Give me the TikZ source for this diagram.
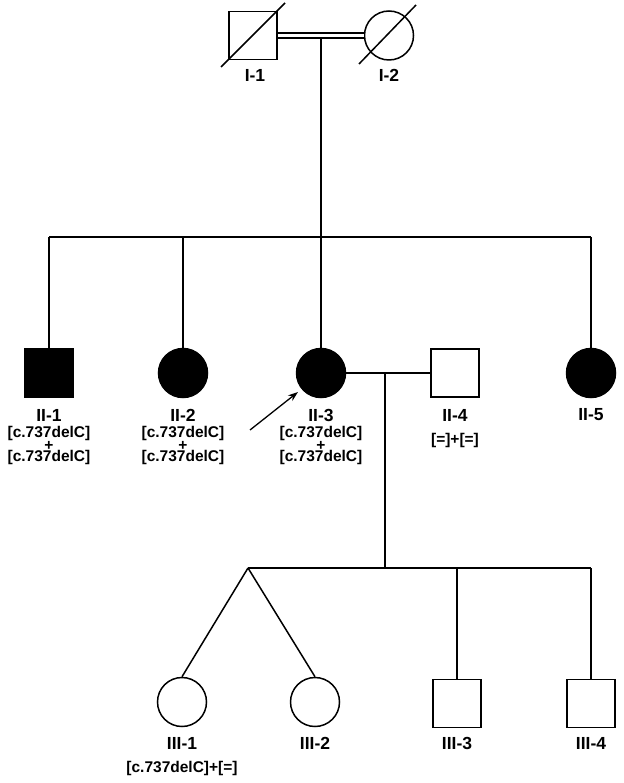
\documentclass[tikz,border=0pt]{standalone}
\usepackage{fontspec}
\setmainfont{Liberation Sans}
\usetikzlibrary{arrows.meta}
\begin{document}
\begin{tikzpicture}[x=1pt,y=-1pt,line width=1.5pt,
  male/.style={draw,rectangle,minimum size=48pt,inner sep=0pt},
  female/.style={draw,circle,minimum size=49pt,inner sep=0pt},
  aff/.style={fill=black},
  lbl/.style={font=\bfseries\fontsize{17.5}{17.5}\selectfont,inner sep=0pt},
  geno/.style={font=\bfseries\fontsize{15.5}{15.5}\selectfont,inner sep=0pt},
  geno3/.style={font=\bfseries\fontsize{15.5}{11.6}\selectfont,inner sep=0pt,align=center}]
\useasboundingbox (0,0) rectangle (623,783);
% Generation I
\node[male] (I1) at (253,35.5) {};
\node[female] (I2) at (389,35.5) {};
\draw (221,67) -- (285,3);
\draw (359,64) -- (416,5);
\draw[double,double distance=3.5pt,line width=1.4pt] (I1.east) -- (I2.west);
\coordinate (m1) at (321,38);
\node[lbl] (lI1) at (255,75) {I-1};
\node[lbl] (lI2) at (389,75) {I-2};
% Generation II
\node[male,aff] (II1) at (49,373) {};
\node[female,aff] (II2) at (183,373) {};
\node[female,aff] (II3) at (321,373) {};
\node[male] (II4) at (455,373) {};
\node[female,aff] (II5) at (591,373) {};
\coordinate (s1) at (49,237);
\coordinate (s2) at (183,237);
\coordinate (s3) at (321,237);
\coordinate (s5) at (591,237);
\draw (m1) -- (s3);
\draw (s1) -- (s5);
\draw (s1) -- (II1.north);
\draw (s2) -- (II2.north);
\draw (s3) -- (II3.north);
\draw (s5) -- (II5.north);
\draw (II3.east) -- (II4.west);
\coordinate (m2) at (385,373);
\coordinate (c0) at (385,568);
\draw (m2) -- (c0);
% labels II
\node[lbl] (lII1) at (49,415) {II-1};
\node[lbl] (lII2) at (183,415) {II-2};
\node[lbl] (lII3) at (321,415) {II-3};
\node[lbl] (lII4) at (455,415) {II-4};
\node[lbl] (lII5) at (591,415) {II-5};
\node[geno3] (g1) at (49,445.5) {{[c.737delC]}\\{+}\\{[c.737delC]}};
\node[geno3] (g2) at (183,445.5) {{[c.737delC]}\\{+}\\{[c.737delC]}};
\node[geno3] (g3) at (321,445.5) {{[c.737delC]}\\{+}\\{[c.737delC]}};
\node[geno] (g4) at (455,440) {[=]+[=]};
% proband arrow
\coordinate (pa) at (250,430);
\coordinate (pb) at (298,392);
\draw[-{Stealth[length=10pt,width=7pt]},line width=1.3pt] (pa) -- (pb);
% Generation III
\node[female] (III1) at (182,702) {};
\node[female] (III2) at (315,702) {};
\node[male] (III3) at (457,703.5) {};
\node[male] (III4) at (591,703.5) {};
\coordinate (t) at (248,568);
\coordinate (c3) at (457,568);
\coordinate (c4) at (591,568);
\draw (t) -- (c4);
\draw (t) -- (III1.north);
\draw (t) -- (III2.north);
\draw (c3) -- (III3.north);
\draw (c4) -- (III4.north);
\node[lbl] (lIII1) at (182,743) {III-1};
\node[lbl] (lIII2) at (315,743) {III-2};
\node[lbl] (lIII3) at (457,743) {III-3};
\node[lbl] (lIII4) at (591,743) {III-4};
\node[geno] (g5) at (182,768) {[c.737delC]+[=]};
\end{tikzpicture}
\end{document}
